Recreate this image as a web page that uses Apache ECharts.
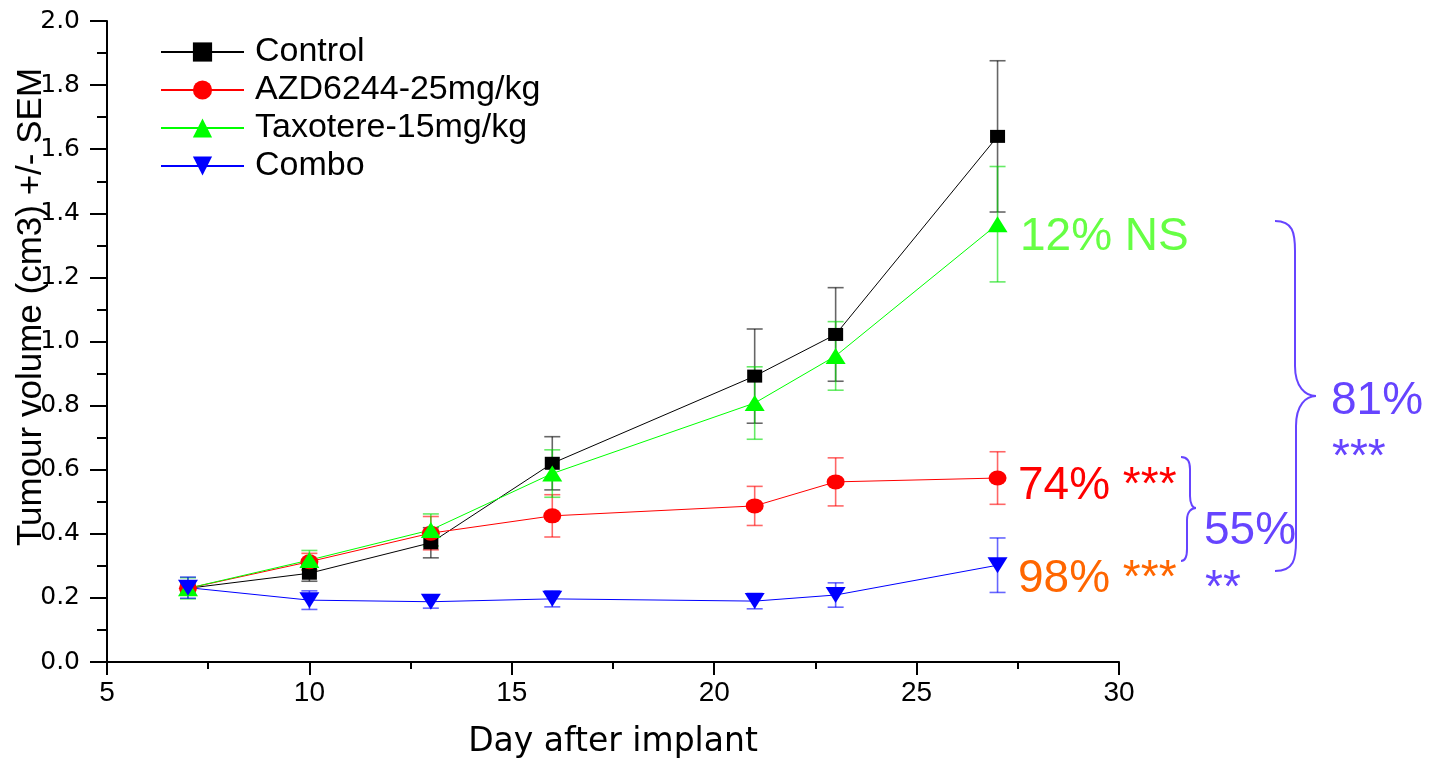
<!DOCTYPE html>
<html><head><meta charset="utf-8">
<script src="https://cdn.jsdelivr.net/npm/echarts@6/dist/echarts.min.js"></script>
<style>html,body{margin:0;padding:0;background:#fff}#c{width:1437px;height:759px}</style>
</head><body><div id="c"></div>
<script>
// ---- data ----
const days = [7, 10, 13, 16, 21, 23, 27];
const controlVals = [0.23, 0.277, 0.372, 0.62, 0.892, 1.022, 1.64];
const controlErr  = [0.02, 0.025, 0.047, 0.083, 0.147, 0.146, 0.236];
const azdVals = [0.23, 0.313, 0.402, 0.456, 0.487, 0.562, 0.574];
const azdErr  = [0.02, 0.026, 0.052, 0.066, 0.061, 0.075, 0.082];
const taxVals = [0.23, 0.318, 0.412, 0.588, 0.808, 0.955, 1.366];
const taxErr  = [0.033, 0.03, 0.05, 0.074, 0.113, 0.107, 0.18];
const comboVals = [0.232, 0.193, 0.188, 0.197, 0.19, 0.209, 0.302];
const comboErr  = [0.033, 0.029, 0.02, 0.025, 0.024, 0.038, 0.085];
const seriesNames = ['Control', 'AZD6244-25mg/kg', 'Taxotere-15mg/kg', 'Combo'];
const xTickLabels = ['5', '10', '15', '20', '25', '30'];
const yTickLabels = ['0.0', '0.2', '0.4', '0.6', '0.8', '1.0', '1.2', '1.4', '1.6', '1.8', '2.0'];
const xTitle = 'Day after implant';
const yTitle = 'Tumour volume (cm3) +/- SEM';

const chart = echarts.init(document.getElementById('c'), null, {renderer: 'canvas'});

function pairs(vals) { return days.map((d, i) => [d, vals[i]]); }
function errData(vals, errs) { return days.map((d, i) => [d, vals[i] - errs[i], vals[i] + errs[i]]); }

function errSeries(name, vals, errs, color) {
  return {
    type: 'custom', name: name + ' SEM', silent: true, z: 1,
    data: errData(vals, errs), encode: {x: 0, y: [1, 2]},
    renderItem: function (params, api) {
      const x = api.value(0);
      const lo = api.coord([x, api.value(1)]);
      const hi = api.coord([x, api.value(2)]);
      const w = 8;
      const style = {stroke: color, lineWidth: 1.6, opacity: 0.6};
      return {type: 'group', children: [
        {type: 'line', shape: {x1: lo[0], y1: lo[1], x2: hi[0], y2: hi[1]}, style: style},
        {type: 'line', shape: {x1: lo[0] - w, y1: lo[1], x2: lo[0] + w, y2: lo[1]}, style: style},
        {type: 'line', shape: {x1: hi[0] - w, y1: hi[1], x2: hi[0] + w, y2: hi[1]}, style: style}
      ]};
    }
  };
}
function lineSeries(name, vals, color, symbol, size, rotate) {
  return {
    type: 'line', name: name, data: pairs(vals), z: 3,
    symbol: symbol, symbolSize: size, symbolRotate: rotate || 0, showAllSymbol: true,
    lineStyle: {color: color, width: 1}, itemStyle: {color: color}
  };
}

const PURPLE = '#6644FF';
const AF = 'Liberation Sans, Arial, sans-serif';

// brace: ends at xe, spine at xs (upper) / xs2 (lower), tip at (xt, ym); from y0 to y1
function brace(xe, xs, xs2, xt, y0, ym, y1, r) {
  const st = {stroke: PURPLE, lineWidth: 2, fill: null};
  return [
    {type: 'bezierCurve', shape: {x1: xe, y1: y0, cpx1: xs - 2, cpy1: y0, cpx2: xs, cpy2: y0 + r * 0.4, x2: xs, y2: y0 + r}, style: st},
    {type: 'line', shape: {x1: xs, y1: y0 + r, x2: xs, y2: ym - r}, style: st},
    {type: 'bezierCurve', shape: {x1: xs, y1: ym - r, cpx1: xs, cpy1: ym - r * 0.3, cpx2: xt - (xt - xs) * 0.5, cpy2: ym, x2: xt, y2: ym}, style: st},
    {type: 'bezierCurve', shape: {x1: xt, y1: ym, cpx1: xt - (xt - xs2) * 0.5, cpy1: ym, cpx2: xs2, cpy2: ym + r * 0.3, x2: xs2, y2: ym + r}, style: st},
    {type: 'line', shape: {x1: xs2, y1: ym + r, x2: xs2, y2: y1 - r}, style: st},
    {type: 'bezierCurve', shape: {x1: xs2, y1: y1 - r, cpx1: xs2, cpy1: y1 - r * 0.4, cpx2: xs2 - 2, cpy2: y1, x2: xe, y2: y1}, style: st}
  ];
}

const graphics = [
  {type: 'text', x: 31, y: 307, rotation: Math.PI / 2,
    style: {text: yTitle, font: '35px ' + AF, fill: '#000', align: 'center', verticalAlign: 'middle'}},
  {type: 'text', x: 1020, y: 237, style: {text: '12% NS', font: '46px ' + AF, fill: '#66FF44', verticalAlign: 'middle'}},
  {type: 'text', x: 1018, y: 486, style: {text: '74% ***', font: '46px ' + AF, fill: '#FF0000', verticalAlign: 'middle'}},
  {type: 'text', x: 1018, y: 579, style: {text: '98% ***', font: '46px ' + AF, fill: '#FF6600', verticalAlign: 'middle'}},
  {type: 'text', x: 1204, y: 531, style: {text: '55%', font: '46px ' + AF, fill: PURPLE, verticalAlign: 'middle'}},
  {type: 'text', x: 1205, y: 589, style: {text: '**', font: '46px ' + AF, fill: PURPLE, verticalAlign: 'middle'}},
  {type: 'text', x: 1331, y: 401, style: {text: '81%', font: '46px ' + AF, fill: PURPLE, verticalAlign: 'middle'}},
  {type: 'text', x: 1332, y: 458, style: {text: '***', font: '46px ' + AF, fill: PURPLE, verticalAlign: 'middle'}}
].concat(brace(1275, 1295, 1296, 1316, 221, 396, 571, 30))
 .concat(brace(1181, 1190, 1187, 1196, 457, 508, 561, 12));

const option = {
  animation: false,
  backgroundColor: '#fff',
  grid: {left: 107, right: 318, top: 21, bottom: 97, containLabel: false, outerBoundsMode: 'none'},
  legend: {
    data: seriesNames, orient: 'vertical', left: 160, top: 35,
    itemWidth: 83, itemHeight: 24, itemGap: 4, padding: 0,
    textStyle: {fontFamily: AF, fontSize: 34, color: '#000', padding: [0, 0, 0, 6]}
  },
  xAxis: {
    type: 'value', min: 5, max: 30, interval: 5,
    name: xTitle, nameLocation: 'middle', nameGap: 64,
    nameTextStyle: {fontFamily: 'DejaVu Sans', fontSize: 33, color: '#000'},
    axisLine: {lineStyle: {color: '#000', width: 2}},
    axisTick: {show: true, length: 13, lineStyle: {color: '#000', width: 2}},
    minorTick: {show: true, splitNumber: 2, length: 7, lineStyle: {color: '#000', width: 2}},
    splitLine: {show: false},
    axisLabel: {fontFamily: AF, fontSize: 28, color: '#000', margin: 17,
      formatter: function (v) { return xTickLabels[Math.round((v - 5) / 5)]; }}
  },
  yAxis: {
    type: 'value', min: 0, max: 2, interval: 0.2,
    axisLine: {show: true, lineStyle: {color: '#000', width: 2}},
    axisTick: {show: true, length: 17, lineStyle: {color: '#000', width: 2}},
    minorTick: {show: true, splitNumber: 2, length: 10, lineStyle: {color: '#000', width: 2}},
    splitLine: {show: false},
    axisLabel: {fontFamily: 'DejaVu Sans', fontSize: 25, color: '#000', margin: 27,
      formatter: function (v) { return yTickLabels[Math.round(v / 0.2)]; }}
  },
  series: [
    errSeries('Control', controlVals, controlErr, '#000000'),
    errSeries('AZD', azdVals, azdErr, '#FF0000'),
    errSeries('Tax', taxVals, taxErr, '#00DD00'),
    errSeries('Combo', comboVals, comboErr, '#0000FF'),
    lineSeries(seriesNames[0], controlVals, '#000000', 'rect', [15, 13]),
    lineSeries(seriesNames[1], azdVals, '#FF0000', 'circle', [18, 15]),
    lineSeries(seriesNames[2], taxVals, '#00FF00', 'triangle', [20, 16]),
    lineSeries(seriesNames[3], comboVals, '#0000FF', 'triangle', [20, 16], 180)
  ],
  graphic: graphics
};
chart.setOption(option);
</script>
</body></html>
